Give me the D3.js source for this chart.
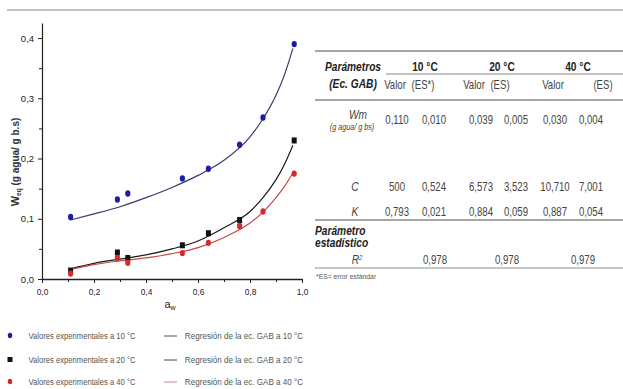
<!DOCTYPE html>
<html lang="es">
  <head>
    <meta charset="UTF-8" />
    <title>Isotermas GAB</title>
    <style>
      body { margin: 0; background: #fff; }
      svg text { font-family: "Liberation Sans", Arial, sans-serif; }
      .axis path, .axis line { stroke: #222; }
      .axis text { font-size: 9.5px; fill: #222; }
    </style>
  </head>
  <body>
    <svg id="chart" width="623" height="389"></svg>
    <script src="https://cdn.jsdelivr.net/npm/d3@7"></script>
    <script>
      // experimental points
      const aw10 = [0.11, 0.29, 0.33, 0.54, 0.64, 0.76, 0.85, 0.97];
      const w10 = [0.103, 0.132, 0.142, 0.167, 0.183, 0.223, 0.268, 0.39];
      const aw20 = [0.11, 0.29, 0.33, 0.54, 0.64, 0.76, 0.97];
      const w20 = [0.014, 0.044, 0.035, 0.056, 0.076, 0.098, 0.23];
      const aw40 = [0.11, 0.29, 0.33, 0.54, 0.64, 0.76, 0.85, 0.97];
      const w40 = [0.009, 0.035, 0.027, 0.043, 0.06, 0.088, 0.112, 0.175];

      // fitted GAB curves
      const awFit = [0.11, 0.2, 0.3, 0.4, 0.5, 0.6, 0.7, 0.8, 0.85, 0.9, 0.93, 0.965];
      const fit10 = [0.098, 0.108, 0.12, 0.135, 0.152, 0.172, 0.197, 0.236, 0.266, 0.305, 0.336, 0.383];
      const fit20 = [0.017, 0.026, 0.033, 0.04, 0.05, 0.063, 0.085, 0.112, 0.135, 0.165, 0.188, 0.222];
      const fit40 = [0.016, 0.024, 0.03, 0.035, 0.042, 0.052, 0.069, 0.093, 0.111, 0.135, 0.152, 0.176];

      const xTicks = [0, 0.2, 0.4, 0.6, 0.8, 1.0];
      const yTicks = [0, 0.1, 0.2, 0.3, 0.4];

      // table
      const temps = ["10 °C", "20 °C", "40 °C"];
      const subHeads = ["Valor", "(ES*)", "Valor", "(ES)", "Valor", "(ES)"];
      const rowWm = ["0,110", "0,010", "0,039", "0,005", "0,030", "0,004"];
      const rowC = ["500", "0,524", "6,573", "3,523", "10,710", "7,001"];
      const rowK = ["0,793", "0,021", "0,884", "0,059", "0,887", "0,054"];
      const rowR2 = ["0,978", "0,978", "0,979"];

      const legendPts = ["Valores experimentales a 10 °C", "Valores experimentales a 20 °C", "Valores experimentales a 40 °C"];
      const legendFits = ["Regresión de la ec. GAB a 10 °C", "Regresión de la ec. GAB a 20 °C", "Regresión de la ec. GAB a 40 °C"];

      const svg = d3.select("#chart");
      const comma = (d) => d3.format(".1f")(d).replace(".", ",");

      const x = d3.scaleLinear().domain([0, 1]).range([42, 302]);
      const y = d3.scaleLinear().domain([0, 0.425]).range([279, 23]);

      // narrow text: squeeze horizontally around its anchor
      const txt = (parent, t, xx, yy, size, sx) => parent.append("text")
        .attr("transform", `translate(${xx},${yy}) scale(${sx},1)`)
        .attr("text-anchor", "middle").style("font-size", size + "px").text(t);

      // top rule
      svg.append("line").attr("x1", 7).attr("x2", 623).attr("y1", 10).attr("y2", 10)
        .attr("stroke", "#c4c4c4").attr("stroke-width", 2);

      // minor ticks
      svg.append("g").attr("class", "axis").attr("transform", "translate(0,279)")
        .call(d3.axisBottom(x).tickValues(d3.range(0.1, 1, 0.2)).tickSize(3).tickFormat(""))
        .select(".domain").remove();
      svg.append("g").attr("class", "axis").attr("transform", "translate(42,0)")
        .call(d3.axisLeft(y).tickValues(d3.range(0.05, 0.4, 0.1)).tickSize(3).tickFormat(""))
        .select(".domain").remove();

      const gx = svg.append("g").attr("class", "axis").attr("transform", "translate(0,279)")
        .call(d3.axisBottom(x).tickValues(xTicks).tickSize(4).tickSizeOuter(0).tickFormat(comma));
      gx.select(".domain").attr("stroke-width", 1.6);
      gx.selectAll("text").attr("dy", "0.9em").attr("transform", "scale(0.88,1)");

      const gy = svg.append("g").attr("class", "axis").attr("transform", "translate(42,0)")
        .call(d3.axisLeft(y).tickValues(yTicks).tickSize(4).tickSizeOuter(0).tickFormat(comma));
      gy.select(".domain").attr("stroke-width", 1.2);
      gy.selectAll("text").attr("dx", "-0.1em");

      // axis titles
      svg.append("text").attr("x", 170).attr("y", 308).attr("text-anchor", "middle")
        .style("font-size", "11px").attr("fill", "#222")
        .html('a<tspan dy="2" style="font-size:7px">w</tspan>');

      const yt = svg.append("text").attr("transform", "translate(19,162) rotate(-90)")
        .attr("text-anchor", "middle").style("font-size", "10px").style("font-weight", "bold")
        .attr("fill", "#333");
      yt.append("tspan").style("font-size", "11px").text("W");
      yt.append("tspan").attr("dy", 2).style("font-size", "6.5px").text("eq");
      yt.append("tspan").attr("dy", -2).text(" (g agua/ g b.s)");

      // fitted curves
      const line = d3.line().x((d) => x(d[0])).y((d) => y(d[1])).curve(d3.curveMonotoneX);
      const fits = [
        { v: fit10, c: "#3a3a6e" },
        { v: fit20, c: "#1a1a1a" },
        { v: fit40, c: "#c84848" }
      ];
      svg.append("g").selectAll("path").data(fits).enter().append("path")
        .attr("d", (d) => line(awFit.map((a, i) => [a, d.v[i]])))
        .attr("fill", "none").attr("stroke", (d) => d.c).attr("stroke-width", 1.2);

      // points
      const pts20 = aw20.map((a, i) => [a, w20[i]]);
      svg.append("g").selectAll("rect").data(pts20).enter().append("rect")
        .attr("x", (d) => x(d[0]) - 2.5).attr("y", (d) => y(d[1]) - 3)
        .attr("width", 5).attr("height", 6).attr("fill", "#111");

      const pts40 = aw40.map((a, i) => [a, w40[i]]);
      svg.append("g").selectAll("ellipse").data(pts40).enter().append("ellipse")
        .attr("cx", (d) => x(d[0])).attr("cy", (d) => y(d[1]))
        .attr("rx", 2.6).attr("ry", 3.2).attr("fill", "#d42a2a");

      const pts10 = aw10.map((a, i) => [a, w10[i]]);
      svg.append("g").selectAll("ellipse").data(pts10).enter().append("ellipse")
        .attr("cx", (d) => x(d[0])).attr("cy", (d) => y(d[1]))
        .attr("rx", 2.6).attr("ry", 3.2).attr("fill", "#1c1ca8");

      // legend
      const legY = [336, 360, 382];
      const markColors = ["#1c1ca8", "#111", "#d42a2a"];
      const lineColors = ["#555", "#444", "#e08080"];
      const leg = svg.append("g").selectAll("g").data(legendPts).enter().append("g")
        .attr("transform", (d, i) => `translate(0,${legY[i]})`);
      leg.each(function (d, i) {
        const g = d3.select(this);
        if (i === 1) g.append("rect").attr("x", 7.5).attr("y", -3).attr("width", 5).attr("height", 5).attr("fill", markColors[i]);
        else g.append("ellipse").attr("cx", 10).attr("cy", -0.5).attr("rx", 2.2).attr("ry", 2.8).attr("fill", markColors[i]);
        txt(g, d, 82, 3, 9, 0.85).attr("fill", "#555");
        g.append("line").attr("x1", 164).attr("x2", 177).attr("y1", 0).attr("y2", 0)
          .attr("stroke", lineColors[i]).attr("stroke-width", 1);
        txt(g, legendFits[i], 244, 3, 9, 0.9).attr("fill", "#555");
      });

      // table
      const tb = svg.append("g");
      const headX = [395, 423, 474, 500, 553, 603];
      const colX = [397, 434, 481, 516, 555, 591];
      const tempX = [425, 502, 578];
      const r2X = [435, 507, 583];
      const labelX = 353;

      const rule = (y0, x0, w) => tb.append("line").attr("x1", x0).attr("x2", 623)
        .attr("y1", y0).attr("y2", y0).attr("stroke", "#8a8a8a").attr("stroke-width", w);
      rule(51, 315, 1.6);
      rule(74, 386, 1.2);
      rule(100, 315, 1.4);
      rule(220, 315, 1.4);
      rule(268, 315, 1);

      const bold = (t, xx, yy, italic) => txt(tb, t, xx, yy, 12, 0.85)
        .style("font-weight", "bold").style("font-style", italic ? "italic" : "normal").attr("fill", "#222");
      bold("Parámetros", labelX, 71, true);
      bold("(Ec. GAB)", labelX, 88, true);
      bold("Parámetro", 315, 235, true).attr("text-anchor", "start");
      bold("estadístico", 315, 247, true).attr("text-anchor", "start");
      temps.forEach((t, i) => bold(t, tempX[i], 71, false));

      const row = (vals, xs, yy) => vals.forEach((v, i) => txt(tb, v, xs[i], yy, 12, 0.8).attr("fill", "#444"));
      row(subHeads, headX, 89);
      row(rowWm, colX, 124);
      row(rowC, colX, 191);
      row(rowK, colX, 216);
      row(rowR2, r2X, 264);

      const it = (t, xx, yy, fs) => txt(tb, t, xx, yy, fs, 0.85).style("font-style", "italic").attr("fill", "#444");
      it("Wm", 358, 119, 12);
      it("(g agua/ g bs)", 352, 130, 8.5);
      it("C", 355, 191, 12);
      it("K", 355, 216, 12);
      tb.append("text").attr("transform", "translate(357,264) scale(0.85,1)").attr("text-anchor", "middle")
        .style("font-size", "12px").style("font-style", "italic").attr("fill", "#444")
        .html('R<tspan dy="-4" style="font-size:7px">2</tspan>');

      txt(tb, "*ES= error estándar", 316, 279, 8, 0.85).attr("text-anchor", "start").attr("fill", "#555");
    </script>
  </body>
</html>
